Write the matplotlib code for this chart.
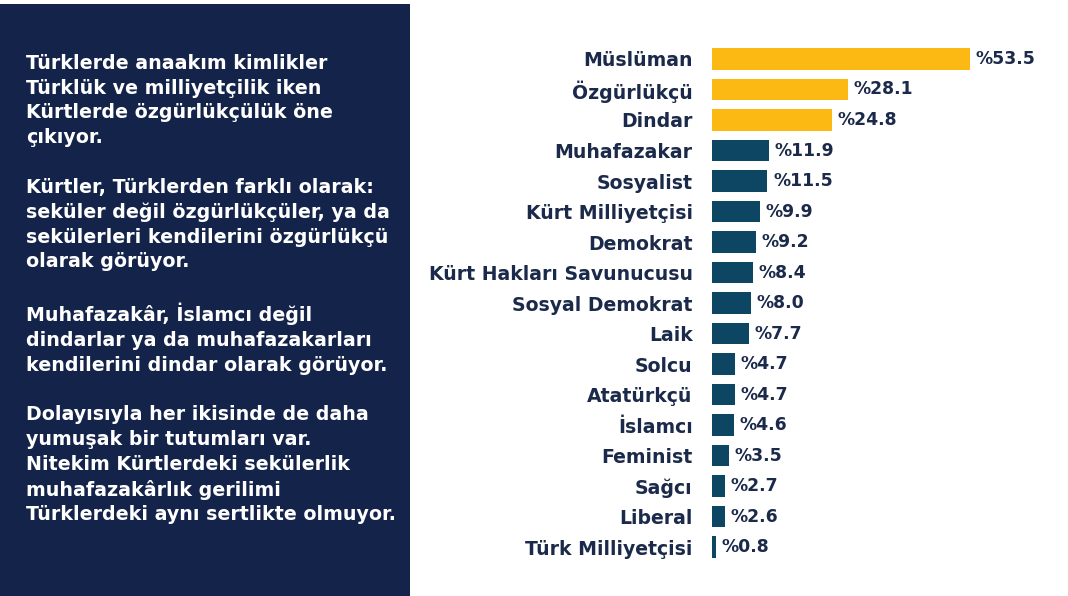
import matplotlib.pyplot as plt
from matplotlib.patches import Rectangle

# Data
categories = ['Müslüman', 'Özgürlükçü', 'Dindar', 'Muhafazakar', 'Sosyalist',
              'Kürt Milliyetçisi', 'Demokrat', 'Kürt Hakları Savunucusu',
              'Sosyal Demokrat', 'Laik', 'Solcu', 'Atatürkçü', 'İslamcı',
              'Feminist', 'Sağcı', 'Liberal', 'Türk Milliyetçisi']
values = [53.5, 28.1, 24.8, 11.9, 11.5, 9.9, 9.2, 8.4, 8.0, 7.7, 4.7, 4.7,
          4.6, 3.5, 2.7, 2.6, 0.8]
highlight = 3  # first three bars in gold

panel_text = ("Türklerde anaakım kimlikler\n"
              "Türklük ve milliyetçilik iken\n"
              "Kürtlerde özgürlükçülük öne\n"
              "çıkıyor.\n"
              "\n"
              "Kürtler, Türklerden farklı olarak:\n"
              "seküler değil özgürlükçüler, ya da\n"
              "sekülerleri kendilerini özgürlükçü\n"
              "olarak görüyor.\n"
              "\n"
              "Muhafazakâr, İslamcı değil\n"
              "dindarlar ya da muhafazakarları\n"
              "kendilerini dindar olarak görüyor.\n"
              "\n"
              "Dolayısıyla her ikisinde de daha\n"
              "yumuşak bir tutumları var.\n"
              "Nitekim Kürtlerdeki sekülerlik\n"
              "muhafazakârlık gerilimi\n"
              "Türklerdeki aynı sertlikte olmuyor.")

navy = '#13234a'
gold = '#fdb913'
teal = '#0c4662'
label_color = '#1b2a4a'

plt.rcParams['font.family'] = ['DejaVu Sans']

fig = plt.figure(figsize=(10.68, 5.96), dpi=100)
fig.patch.set_facecolor('white')

# dark side panel
fig.patches.append(Rectangle((0, 0), 410 / 1068, 1 - 4 / 596, transform=fig.transFigure,
                             facecolor=navy, edgecolor='none', zorder=0))
fig.text(26 / 1068, 1 - 54 / 596, panel_text, color='white', fontsize=13.7,
         fontweight='bold', va='top', ha='left', linespacing=1.38)

ax = fig.add_axes([712 / 1068, 0.0566, 1 - 712 / 1068, 0.870])
ypos = list(range(len(categories)))
colors = [gold if i < highlight else teal for i in ypos]
ax.barh(ypos, values, height=0.72, color=colors)
ax.set_ylim(len(categories) - 0.5, -0.5)
ax.set_xlim(0, 73.8)

for y, v in zip(ypos, values):
    ax.annotate(f'%{v:.1f}', xy=(v, y), xytext=(4, 0), textcoords='offset points',
                ha='left', va='center', fontsize=12.4, fontweight='bold',
                color=label_color)

ax.set_yticks(ypos)
ax.set_yticklabels(categories, fontsize=13.6, fontweight='bold', color=label_color)
ax.tick_params(axis='y', length=0, pad=14)
ax.set_xticks([])
for s in ax.spines.values():
    s.set_visible(False)

fig.savefig('out.png', dpi=100, facecolor='white')
